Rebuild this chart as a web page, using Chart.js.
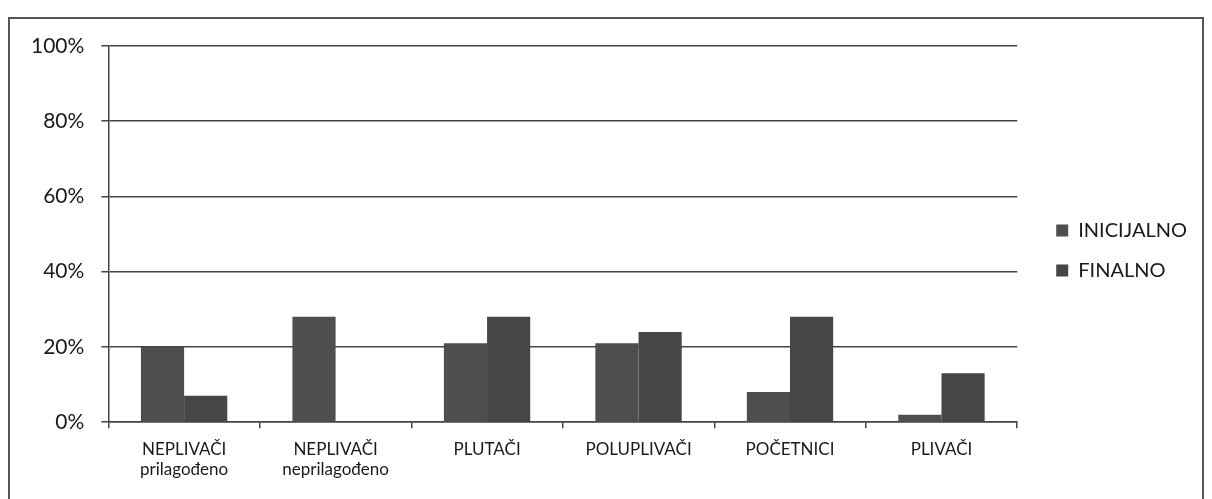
<!DOCTYPE html>
<html>
<head>
<meta charset="utf-8">
<script src="https://cdn.jsdelivr.net/npm/chart.js@4"></script>
<style>
  html, body { margin: 0; padding: 0; background: #fff; }
  #frame { position: absolute; left: 8px; top: 17px; width: 1196px; height: 500px; border: 2px solid #555; border-bottom: none; box-sizing: border-box; }
  #wrap { position: absolute; left: 0; top: 0; width: 1212px; height: 499px; }
</style>
</head>
<body>
<div id="frame"></div>
<div id="wrap"><canvas id="myChart"></canvas></div>
<script>
// kategorije i vrijednosti (u %)
var categories = [['NEPLIVAČI', 'prilagođeno'], ['NEPLIVAČI', 'neprilagođeno'], 'PLUTAČI', 'POLUPLIVAČI', 'POČETNICI', 'PLIVAČI'];
var inicijalno = [20, 28, 21, 21, 8, 2];
var finalno = [7, 0, 28, 24, 28, 13];
var yTicks = [0, 20, 40, 60, 80, 100];

window.onload = function() {
    var ctx = document.getElementById('myChart').getContext('2d');
    new Chart(ctx, {
        type: 'bar',
        data: {
            labels: categories,
            datasets: [{
                label: 'INICIJALNO',
                data: inicijalno,
                backgroundColor: '#4e4e4e'
            }, {
                label: 'FINALNO',
                data: finalno,
                backgroundColor: '#464646'
            }]
        },
        options: {
            responsive: true,
            maintainAspectRatio: false,
            animation: false,
            layout: { padding: { top: 46, left: 14, right: 15, bottom: 8 } },
            datasets: { bar: { barPercentage: 1, categoryPercentage: 0.57 } },
            plugins: {
                tooltip: { enabled: false },
                legend: {
                    position: 'right',
                    fullSize: false,
                    title: { display: true, text: ' ', font: { size: 13 }, padding: { top: 9, bottom: 8 } },
                    labels: {
                        boxWidth: 12, boxHeight: 12, padding: 20,
                        color: '#1a1a1a',
                        font: { family: 'Lato', size: 20 }
                    }
                }
            },
            scales: {
                x: {
                    grid: { offset: true, drawOnChartArea: false, tickLength: 6, color: '#444', lineWidth: 1.5 },
                    border: { color: '#444', width: 1.5 },
                    ticks: { color: '#1a1a1a', maxRotation: 0, font: { family: 'Lato', size: 17 }, padding: 11 }
                },
                y: {
                    min: 0, max: 100,
                    afterBuildTicks: function(axis) { axis.ticks = yTicks.map(function(v) { return { value: v }; }); },
                    grid: { color: '#444', lineWidth: 1.5, tickLength: 7 },
                    border: { color: '#444', width: 1.5 },
                    ticks: {
                        color: '#1a1a1a', padding: 17,
                        font: { family: 'Lato', size: 21 },
                        callback: function(v) { return v + '%'; }
                    }
                },
                // prazan prostor izmedju grafa i legende
                gap: {
                    position: 'right',
                    display: true,
                    grid: { display: false },
                    border: { display: false },
                    ticks: { display: false },
                    afterFit: function(axis) { axis.width = 19; }
                }
            }
        }
    });
};
</script>
</body>
</html>
